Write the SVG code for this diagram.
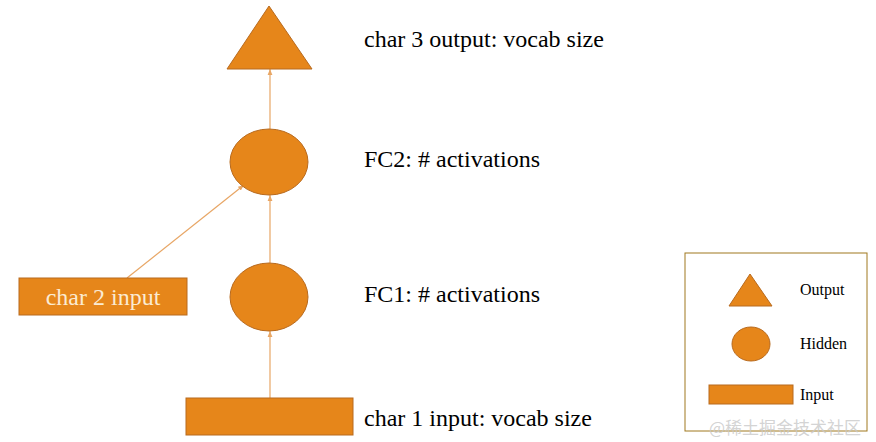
<svg xmlns="http://www.w3.org/2000/svg" width="876" height="442" viewBox="0 0 876 442">
<defs>
<style>
.n{fill:#E6861A;stroke:#B86A1E;stroke-width:1}
.c{stroke:#E8A665;stroke-width:1.2;fill:none;marker-end:url(#ah)}
.t{font-family:"Liberation Serif","Times New Roman",serif;font-size:24px;fill:#000}
.w{font-family:"Liberation Serif","Times New Roman",serif;font-size:24px;fill:#FBEBD2}
.l{font-family:"Liberation Serif","Times New Roman",serif;font-size:16px;fill:#000}
</style>
<marker id="ah" viewBox="0 0 10 10" refX="10" refY="5" markerWidth="6" markerHeight="6" orient="auto" markerUnits="userSpaceOnUse">
<path d="M0,1 L10,5 L0,9 z" fill="#E8A665"/>
</marker>
</defs>
<rect width="876" height="442" fill="#fff"/>
<g id="connectors">
<line class="c" x1="270" y1="398" x2="270" y2="331"/>
<line class="c" x1="270" y1="263" x2="270" y2="195"/>
<line class="c" x1="270" y1="129" x2="270" y2="69"/>
<line class="c" x1="127" y1="278" x2="244" y2="185"/>
</g>
<g id="output"><polygon class="n" points="269,6 312,69 227,69"/></g>
<g id="fc2"><ellipse class="n" cx="269" cy="162" rx="39" ry="33"/></g>
<g id="fc1"><ellipse class="n" cx="269" cy="297" rx="39" ry="34"/></g>
<g id="char1"><rect class="n" x="186" y="398" width="167" height="37"/></g>
<g id="char2"><rect class="n" x="19" y="278" width="168" height="37"/><text class="w" x="103" y="305" text-anchor="middle">char 2 input</text></g>
<g id="labels">
<text class="t" x="364" y="47">char 3 output: vocab size</text>
<text class="t" x="364" y="167">FC2: # activations</text>
<text class="t" x="364" y="302">FC1: # activations</text>
<text class="t" x="364" y="426">char 1 input: vocab size</text>
</g>
<g id="legend">
<rect x="685" y="253" width="182" height="178" fill="none" stroke="#A0781E" stroke-width="1"/>
<polygon class="n" points="750,274 772,306 729,306"/>
<ellipse class="n" cx="751" cy="344" rx="19" ry="17"/>
<rect class="n" x="709" y="385" width="84" height="19"/>
<text class="l" x="800" y="295">Output</text>
<text class="l" x="800" y="349">Hidden</text>
<text class="l" x="800" y="400">Input</text>
<text x="709" y="434" font-family="'Noto Sans CJK SC',sans-serif" font-size="17" fill="#C8C8C8" fill-opacity="0.8">@稀土掘金技术社区</text>
</g>
</svg>
